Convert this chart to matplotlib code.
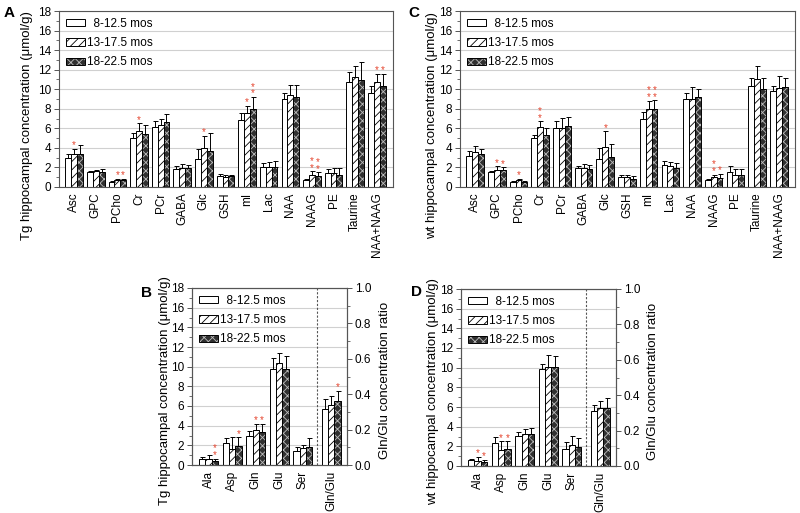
import numpy as np
import matplotlib
matplotlib.use('Agg')
import matplotlib.pyplot as plt
from matplotlib.patches import Patch
from matplotlib.ticker import MultipleLocator

plt.rcParams['font.family'] = ['Liberation Sans', 'DejaVu Sans']
plt.rcParams['hatch.linewidth'] = 0.6

# ---- data ----
groups = ['  8-12.5 mos', '13-17.5 mos', '18-22.5 mos']

metabolites = ['Asc', 'GPC', 'PCho', 'Cr', 'PCr', 'GABA', 'Glc', 'GSH', 'mI',
               'Lac', 'NAA', 'NAAG', 'PE', 'Taurine', 'NAA+NAAG']

# panel A, Tg mice
tg_young = [3.0, 1.5, 0.5, 5.0, 6.1, 1.85, 2.9, 1.1, 6.9, 2.0, 9.0, 0.7, 1.45, 10.7, 9.6]
tg_young_err = [0.4, 0.15, 0.1, 0.5, 0.6, 0.3, 1.0, 0.2, 0.7, 0.5, 0.6, 0.1, 0.35, 1.1, 0.7]
tg_mid = [3.4, 1.6, 0.7, 5.7, 6.3, 1.9, 4.0, 1.0, 7.6, 2.0, 9.4, 1.2, 1.4, 11.2, 10.7]
tg_mid_err = [0.5, 0.1, 0.1, 0.8, 0.7, 0.5, 1.2, 0.25, 0.7, 0.6, 1.0, 0.4, 0.5, 1.2, 0.9]
tg_old = [3.4, 1.5, 0.7, 5.4, 6.6, 1.9, 3.7, 1.1, 8.0, 2.0, 9.2, 1.1, 1.2, 10.9, 10.3]
tg_old_err = [0.9, 0.3, 0.1, 0.9, 0.9, 0.4, 1.8, 0.15, 1.2, 0.7, 1.2, 0.4, 0.7, 1.85, 1.25]
tg_stars = [(0, 1, 0), (0, 0, 0), (0, 1, 1), (0, 1, 0), (0, 0, 0), (0, 0, 0), (0, 1, 0), (0, 0, 0),
            (0, 1, 2), (0, 0, 0), (0, 0, 0), (0, 2, 2), (0, 0, 0), (0, 0, 0), (0, 1, 1)]

# panel C, wt mice
wt_young = [3.2, 1.5, 0.5, 5.0, 6.0, 1.9, 2.9, 1.0, 7.0, 2.2, 9.05, 0.7, 1.55, 10.3, 9.8]
wt_young_err = [0.5, 0.15, 0.1, 0.3, 0.7, 0.2, 1.1, 0.2, 0.65, 0.5, 0.55, 0.1, 0.55, 0.8, 0.5]
wt_mid = [3.6, 1.7, 0.7, 6.1, 6.05, 1.95, 4.1, 1.0, 8.0, 2.15, 9.05, 1.05, 1.2, 11.05, 10.15]
wt_mid_err = [0.6, 0.4, 0.15, 0.6, 1.05, 0.4, 1.6, 0.2, 0.8, 0.45, 1.2, 0.2, 0.65, 1.35, 1.2]
wt_old = [3.35, 1.7, 0.5, 5.3, 6.25, 1.8, 3.1, 0.85, 8.0, 1.95, 9.25, 0.95, 1.2, 10.0, 10.2]
wt_old_err = [0.55, 0.3, 0.1, 0.7, 0.95, 0.5, 1.25, 0.3, 0.85, 0.55, 0.8, 0.4, 0.65, 1.15, 0.9]
wt_stars = [(0, 0, 0), (0, 1, 1), (0, 1, 0), (0, 2, 0), (0, 0, 0), (0, 0, 0), (0, 1, 0), (0, 0, 0),
            (0, 2, 2), (0, 0, 0), (0, 0, 0), (0, 2, 1), (0, 0, 0), (0, 0, 0), (0, 0, 0)]

amino = ['Ala', 'Asp', 'Gln', 'Glu', 'Ser']
ratio_label = 'Gln/Glu'

# panel B, Tg mice
tg_aa_young = [0.6, 2.2, 3.0, 9.8, 1.4]
tg_aa_young_err = [0.2, 0.5, 0.5, 1.1, 0.4]
tg_aa_mid = [0.6, 1.6, 3.55, 10.4, 1.7]
tg_aa_mid_err = [0.45, 1.2, 0.65, 1.0, 0.35]
tg_aa_old = [0.4, 1.95, 3.4, 9.8, 1.85]
tg_aa_old_err = [0.25, 0.85, 0.8, 1.3, 0.85]
tg_aa_stars = [(0, 0, 2), (0, 0, 1), (0, 1, 1), (0, 0, 0), (0, 0, 0)]
tg_ratio = [0.315, 0.34, 0.36]
tg_ratio_err = [0.06, 0.05, 0.06]
tg_ratio_stars = [(0, 0, 1)]

# panel D, wt mice
wt_aa_young = [0.6, 2.3, 3.1, 9.9, 1.7]
wt_aa_young_err = [0.15, 0.7, 0.4, 0.5, 0.7]
wt_aa_mid = [0.5, 1.6, 3.3, 10.05, 2.1]
wt_aa_mid_err = [0.4, 0.9, 0.5, 1.2, 0.95]
wt_aa_old = [0.4, 1.7, 3.3, 10.05, 1.95]
wt_aa_old_err = [0.2, 0.8, 0.6, 1.1, 0.85]
wt_aa_stars = [(0, 1, 1), (0, 1, 1), (0, 0, 0), (0, 0, 0), (0, 0, 0)]
wt_ratio = [0.31, 0.33, 0.33]
wt_ratio_err = [0.035, 0.04, 0.055]
wt_ratio_stars = [(0, 0, 0)]

# ---- styles ----
BAR_W = 0.27
FRAME = '#555555'
DARK = '#303030'
DOTS = '#bdbdbd'
STAR = '#e5432d'
HATCHES = [None, '////']


def drawGroups(ax, xpos, means, errs, stars):
	""" draws the three age groups side by side with upper error bars and stars """
	xpos = np.asarray(xpos, dtype=float)
	for g in range(3):
		x = xpos + (g - 1) * BAR_W
		if g == 2:
			ax.bar(x, means[g], BAR_W, color=DARK, edgecolor=DOTS, hatch='xxxx', linewidth=0)
			ax.bar(x, means[g], BAR_W, fill=False, edgecolor='black', linewidth=0.7)
		else:
			ax.bar(x, means[g], BAR_W, color='white', edgecolor='black', hatch=HATCHES[g], linewidth=0.7)
		ax.errorbar(x, means[g], yerr=[np.zeros(len(x)), errs[g]], fmt='none', ecolor='black',
					elinewidth=0.7, capsize=1.8, capthick=0.7)
		for i in range(len(x)):
			n = stars[i][g]
			if n:
				ax.annotate('\n'.join(['*'] * n), (x[i], means[g][i] + errs[g][i]), xytext=(0, -1),
							textcoords='offset points', ha='center', va='bottom', fontsize=7,
							color=STAR, linespacing=0.6)


def styleAxis(ax, ylabel, labels, positions, xlim, label_xy):
	ax.set_xlim(*xlim)
	ax.set_ylim(0, 18)
	ax.set_xticks(positions)
	ax.set_xticklabels(labels, rotation=90, fontsize=8.5)
	ax.tick_params(axis='x', length=0, pad=4)
	ax.yaxis.set_major_locator(MultipleLocator(2))
	ax.yaxis.set_minor_locator(MultipleLocator(1))
	ax.tick_params(axis='y', which='major', direction='out', length=3.5, width=0.7, color=FRAME, labelsize=8.5, pad=2)
	ax.tick_params(axis='y', which='minor', direction='out', length=2, width=0.6, color=FRAME)
	ax.yaxis.grid(True, color='#d0d0d0', linewidth=0.8)
	ax.set_axisbelow(True)
	for sp in ax.spines.values():
		sp.set_color(FRAME)
		sp.set_linewidth(0.8)
	ax.set_ylabel(ylabel, fontsize=9.5)
	ax.yaxis.set_label_coords(*label_xy)

	# legend with the three bar styles
	handles = [Patch(facecolor='white', edgecolor='black', linewidth=0.7),
			   Patch(facecolor='white', edgecolor='black', hatch='////', linewidth=0.7),
			   (Patch(facecolor=DARK, edgecolor=DOTS, hatch='xxxx', linewidth=0),
				Patch(fill=False, edgecolor='black', linewidth=0.7))]
	ax.legend(handles, groups, loc='upper left', frameon=False, fontsize=8.5,
			  handlelength=1.6, handleheight=0.55, handletextpad=0.15, labelspacing=0.6,
			  borderaxespad=0.3, borderpad=0.3)


def ratioAxis(ax, xline, label_xy):
	ax.axvline(xline, color=FRAME, linestyle=(0, (2, 1.5)), linewidth=0.8)
	ax2 = ax.twinx()
	ax2.set_ylim(0, 1)
	ax2.yaxis.set_major_locator(MultipleLocator(0.2))
	ax2.yaxis.set_minor_locator(MultipleLocator(0.1))
	ax2.tick_params(axis='y', which='major', direction='out', length=3.5, width=0.7, color=FRAME, labelsize=8.5, pad=2)
	ax2.tick_params(axis='y', which='minor', direction='out', length=2, width=0.6, color=FRAME)
	for sp in ax2.spines.values():
		sp.set_color(FRAME)
		sp.set_linewidth(0.8)
	ax2.set_ylabel('Gln/Glu concentration ratio', fontsize=9.5)
	ax2.yaxis.set_label_coords(*label_xy)
	return ax2


fig = plt.figure(figsize=(8, 5.13), dpi=100)

# top panels
pos15 = np.arange(len(metabolites))
ax_a = fig.add_axes([59 / 800, 1 - 187 / 513, 334 / 800, 176 / 513])
drawGroups(ax_a, pos15, [tg_young, tg_mid, tg_old], [tg_young_err, tg_mid_err, tg_old_err], tg_stars)
styleAxis(ax_a, 'Tg hippocampal concentration (\u03bcmol/g)', metabolites, pos15, (-0.7, 14.75), (-0.078, 0.35))

ax_c = fig.add_axes([460 / 800, 1 - 187 / 513, 335 / 800, 176 / 513])
drawGroups(ax_c, pos15, [wt_young, wt_mid, wt_old], [wt_young_err, wt_mid_err, wt_old_err], wt_stars)
styleAxis(ax_c, 'wt hippocampal concentration (\u03bcmol/g)', metabolites, pos15, (-0.7, 14.75), (-0.066, 0.35))

# bottom panels, same layout for both
pos5 = np.arange(len(amino))
ax_b = fig.add_axes([192 / 800, 1 - 465 / 513, 155 / 800, 177 / 513])
drawGroups(ax_b, pos5, [tg_aa_young, tg_aa_mid, tg_aa_old],
		   [tg_aa_young_err, tg_aa_mid_err, tg_aa_old_err], tg_aa_stars)
styleAxis(ax_b, 'Tg hippocampal concentration (\u03bcmol/g)', amino + [ratio_label],
		  list(pos5) + [5.2], (-0.7, 5.87), (-0.135, 0.42))
ax_b2 = ratioAxis(ax_b, 4.6, (1.206, 0.48))
drawGroups(ax_b2, [5.2], [[v] for v in tg_ratio], [[e] for e in tg_ratio_err], tg_ratio_stars)

ax_d = fig.add_axes([461 / 800, 1 - 466 / 513, 155 / 800, 177 / 513])
drawGroups(ax_d, pos5, [wt_aa_young, wt_aa_mid, wt_aa_old],
		   [wt_aa_young_err, wt_aa_mid_err, wt_aa_old_err], wt_aa_stars)
styleAxis(ax_d, 'wt hippocampal concentration (\u03bcmol/g)', amino + [ratio_label],
		  list(pos5) + [5.2], (-0.7, 5.87), (-0.142, 0.42))
ax_d2 = ratioAxis(ax_d, 4.6, (1.2, 0.48))
drawGroups(ax_d2, [5.2], [[v] for v in wt_ratio], [[e] for e in wt_ratio_err], wt_ratio_stars)

# panel letters
for letter, x, y in [('A', 9, 13), ('C', 414, 13), ('B', 147, 293), ('D', 417, 292)]:
	fig.text(x / 800, 1 - y / 513, letter, fontsize=11, fontweight='bold', ha='center', va='center')

fig.savefig('out.png', dpi=100)
